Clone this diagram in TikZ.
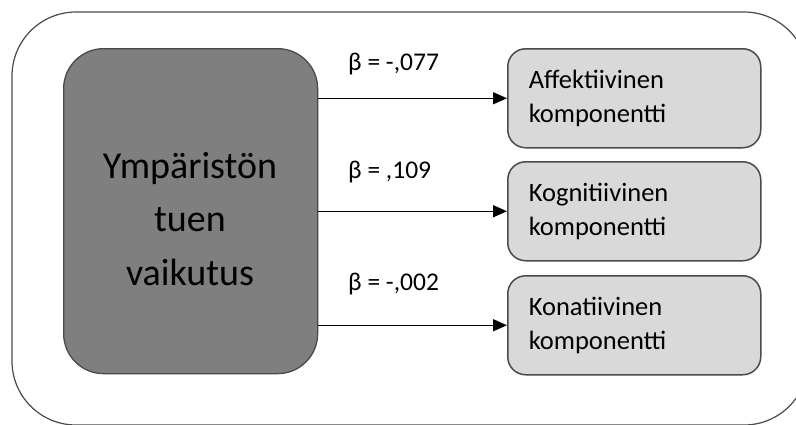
\documentclass[tikz,border=0pt]{standalone}
\usepackage{fontspec}
\setmainfont{Carlito}
\usetikzlibrary{arrows.meta}
\definecolor{darkfill}{HTML}{7F7F7F}
\definecolor{lightfill}{HTML}{D9D9D9}
\definecolor{edgecol}{HTML}{4A4A4A}
\begin{document}
\begin{tikzpicture}[x=1pt,y=-1pt,
  outerbox/.style={draw=edgecol, line width=1.2pt, rounded corners=64pt},
  mainbox/.style={draw=edgecol, fill=darkfill, line width=1.3pt, rounded corners=40pt,
    minimum width=254pt, minimum height=325pt, inner sep=0pt, anchor=north west},
  maintext/.style={font=\fontsize{38pt}{53.5pt}\selectfont, align=center, inner sep=0pt},
  compbox/.style={draw=edgecol, fill=lightfill, line width=1.5pt, rounded corners=18pt,
    minimum width=253pt, minimum height=99pt, inner xsep=21pt, inner ysep=0pt,
    text width=211pt, align=left, anchor=north west,
    font=\fontsize{26.5pt}{34pt}\selectfont},
  betalabel/.style={font=\fontsize{25.5pt}{30pt}\selectfont, inner sep=0pt, anchor=base west},
  arrowline/.style={draw=black, line width=1.5pt, -{Triangle[length=14pt,width=12pt]}}
]
\useasboundingbox (0,0) rectangle (796,424);
\begin{scope}
  \clip (0,0) rectangle (796,424);
  \draw[outerbox] (12,12) rectangle (808,425);
\end{scope}
\node[mainbox] (dark) at (63,48) {};
\node[maintext] (darklabel) at (190,219) {Ympäristön\\tuen\\vaikutus};
\node[compbox] (aff) at (507,48) {Affektiivinen\\komponentti};
\node[compbox] (kog) at (507,161) {Kognitiivinen\\komponentti};
\node[compbox] (kon) at (507,275) {Konatiivinen\\komponentti};
\draw[arrowline] (dark.east |- aff.west) -- (aff.west);
\draw[arrowline] (dark.east |- kog.west) -- (kog.west);
\draw[arrowline] (dark.east |- kon.west) -- (kon.west);
\node[betalabel] (b1) at (348,70) {β = -,077};
\node[betalabel] (b2) at (348,178) {β = ,109};
\node[betalabel] (b3) at (348,290) {β = -,002};
\end{tikzpicture}
\end{document}
